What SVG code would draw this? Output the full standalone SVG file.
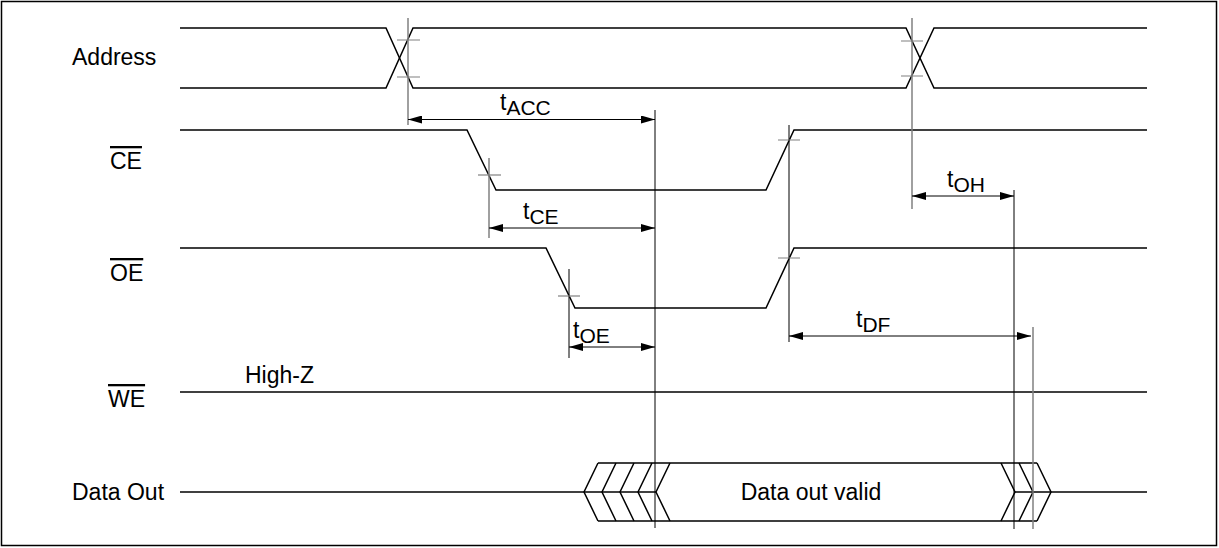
<svg xmlns="http://www.w3.org/2000/svg" width="1219" height="548" viewBox="0 0 1219 548">
<style>
.sig{fill:none;stroke:#000;stroke-width:1.5}
.gv{fill:none;stroke:#808080;stroke-width:1.5}
.bv{fill:none;stroke:#000;stroke-width:1}
.tk{fill:none;stroke:#808080;stroke-width:1.2}
.dim{fill:none;stroke:#000;stroke-width:1;marker-start:url(#ah);marker-end:url(#ah)}
.lbl{font-family:"Liberation Sans",Arial,sans-serif;font-size:23px;fill:#000}
.ov{text-decoration:overline}
.sub{font-size:21px}
</style>
<defs>
<marker id="ah" viewBox="0 0 14 8" refX="14" refY="4" markerWidth="14" markerHeight="8" markerUnits="userSpaceOnUse" orient="auto-start-reverse">
<path d="M0,0 L14,4 L0,8 Z" fill="#000"/>
</marker>
</defs>
<rect x="1.5" y="1.5" width="1215" height="544" fill="#fff" stroke="#000" stroke-width="1.5"/>
<g id="address">
<text class="lbl" x="72" y="65">Address</text>
<path class="sig" d="M180,28 H386 L413,88 H906 L934,28 H1147"/>
<path class="sig" d="M180,88 H386 L413,28 H906 L934,88 H1147"/>
</g>
<g id="ce">
<text class="lbl ov" x="110" y="169">CE</text>
<path class="sig" d="M180,130 H467 L496,190 H766 L794,130 H1147"/>
</g>
<g id="oe">
<text class="lbl ov" x="110" y="281">OE</text>
<path class="sig" d="M180,248 H546 L575,308 H766 L794,248 H1147"/>
</g>
<g id="we">
<text class="lbl ov" x="108" y="407">WE</text>
<text class="lbl" x="245" y="383">High-Z</text>
<path class="sig" d="M180,392 H1147"/>
</g>
<g id="dataout">
<text class="lbl" x="72" y="500">Data Out</text>
<path class="sig" d="M180,492 H656"/>
<path class="sig" d="M598,463 L584,492 L598,521 M616,463 L602,492 L616,521 M634,463 L620,492 L634,521 M652,463 L638,492 L652,521 M670,463 L656,492 L670,521"/>
<path class="sig" d="M598,463 H1037 M598,521 H1037"/>
<path class="sig" d="M1001,463 L1015,492 L1001,521 M1019,463 L1033,492 L1019,521 M1037,463 L1051,492 L1037,521"/>
<path class="sig" d="M1015,492 H1147"/>
<text class="lbl" x="811" y="500" text-anchor="middle">Data out valid</text>
</g>
<g id="timing">
<path class="gv" d="M408,18 V125"/>
<path class="tk" d="M397,40 H420 M397,77 H420"/>
<path class="gv" d="M912,18 V209"/>
<path class="tk" d="M901,41 H923 M901,76 H923"/>
<path class="gv" d="M489,158 V238"/>
<path class="tk" d="M478,175 H501"/>
<path class="bv" d="M569,269 V358"/>
<path class="tk" d="M558,296 H580"/>
<path class="bv" d="M655,110 V528"/>
<path class="bv" d="M789,125 V342"/>
<path class="tk" d="M778,140 H800 M778,258 H800"/>
<path class="bv" d="M1014,190 V529"/>
<path class="gv" d="M1033,327 V529"/>
<path class="dim" d="M408,119.5 H655"/>
<path class="dim" d="M489,228 H655"/>
<path class="dim" d="M569,347 H655"/>
<path class="dim" d="M912,196 H1014"/>
<path class="dim" d="M789,336 H1031"/>
<text class="lbl" x="500" y="110">t<tspan class="sub" dy="5">ACC</tspan></text>
<text class="lbl" x="523" y="219">t<tspan class="sub" dy="5">CE</tspan></text>
<text class="lbl" x="573" y="338">t<tspan class="sub" dy="5">OE</tspan></text>
<text class="lbl" x="947" y="187">t<tspan class="sub" dy="5">OH</tspan></text>
<text class="lbl" x="856" y="327">t<tspan class="sub" dy="5">DF</tspan></text>
</g>
</svg>
